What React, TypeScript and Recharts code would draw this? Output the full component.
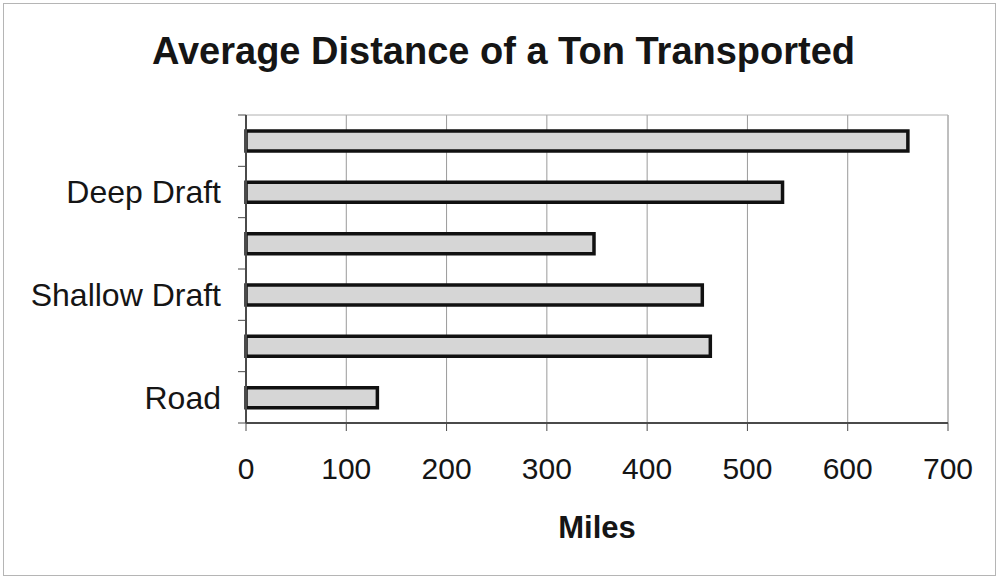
import React from 'react';
import {
  BarChart,
  Bar,
  XAxis,
  YAxis,
  CartesianGrid,
  ReferenceArea,
  Label,
} from 'recharts';

// Transport modes, top to bottom; only every other one gets a printed label
const MODES = ['Pipeline', 'Deep Draft', 'Great Lakes', 'Shallow Draft', 'Rail', 'Road'];
const TICK_LABELS = ['', 'Deep Draft', '', 'Shallow Draft', '', 'Road'];
const MILES = [660, 535, 347, 455, 463, 131];
const MILE_TICKS = [0, 100, 200, 300, 400, 500, 600, 700];

const data = MODES.map((mode, i) => ({ mode, miles: MILES[i] }));

const W = 999;
const H = 579;
const AXIS_W = 246;
const TOP = 115;
const X_AXIS_H = 156;
const RIGHT = 51;
const BAND = (H - TOP - X_AXIS_H) / MODES.length;

const FONT = '"Liberation Sans", Arial, sans-serif';
const INK = '#151515';
const AXIS = '#4a4a4a';

// Category tick: label text plus short tick marks on the band boundaries
const ModeTick = (props: any) => {
  const { x, y, index } = props;
  const label = TICK_LABELS[index];
  return (
    <g>
      <line x1={AXIS_W - 8} x2={AXIS_W} y1={y - BAND / 2} y2={y - BAND / 2} stroke={AXIS} strokeWidth={1} />
      {index === MODES.length - 1 && (
        <line x1={AXIS_W - 8} x2={AXIS_W} y1={y + BAND / 2} y2={y + BAND / 2} stroke={AXIS} strokeWidth={1} />
      )}
      {label && (
        <text x={x} y={y} dy="0.35em" textAnchor="end" fill={INK} fontSize={32} fontFamily={FONT}>
          {label}
        </text>
      )}
    </g>
  );
};

export default function App() {
  return (
    <div style={{ position: 'absolute', left: 0, top: 0, width: W, height: H, background: '#fff', fontFamily: FONT }}>
      <div
        style={{
          position: 'absolute',
          left: 3,
          top: 3,
          width: W - 8,
          height: H - 8,
          border: '1px solid #b5b5b5',
        }}
      />
      <div
        style={{
          position: 'absolute',
          left: 0,
          width: W,
          top: 29,
          textAlign: 'center',
          fontSize: 38,
          fontWeight: 'bold',
          color: INK,
          lineHeight: '44px',
          paddingLeft: 8,
          boxSizing: 'border-box',
        }}
      >
        Average Distance of a Ton Transported
      </div>
      <div style={{ position: 'absolute', left: 0, top: 0 }}>
        <BarChart
          width={W}
          height={H}
          data={data}
          layout="vertical"
          margin={{ top: TOP, right: RIGHT, bottom: 0, left: 0 }}
          barCategoryGap={0}
        >
          <CartesianGrid horizontal={false} stroke="#9a9a9a" strokeWidth={1} />
          <ReferenceArea x1={0} x2={700} fill="none" stroke="#b0b0b0" strokeWidth={1} ifOverflow="visible" />
          <XAxis
            type="number"
            dataKey="miles"
            domain={[0, 700]}
            ticks={MILE_TICKS}
            interval={0}
            height={X_AXIS_H}
            axisLine={{ stroke: AXIS, strokeWidth: 2 }}
            tickLine={{ stroke: AXIS }}
            tickSize={8}
            tickMargin={27}
            tick={{ fill: INK, fontSize: 30, fontFamily: FONT }}
          >
            <Label
              value="Miles"
              position="insideBottom"
              offset={41}
              fill={INK}
              fontSize={31}
              fontWeight="bold"
              fontFamily={FONT}
            />
          </XAxis>
          <YAxis
            type="category"
            dataKey="mode"
            width={AXIS_W}
            interval={0}
            axisLine={{ stroke: AXIS, strokeWidth: 2 }}
            tickLine={false}
            tickSize={8}
            tickMargin={17}
            tick={<ModeTick />}
          />
          <Bar
            dataKey="miles"
            barSize={20}
            fill="#d6d6d6"
            stroke="#111"
            strokeWidth={3.5}
            isAnimationActive={false}
          />
        </BarChart>
      </div>
    </div>
  );
}
